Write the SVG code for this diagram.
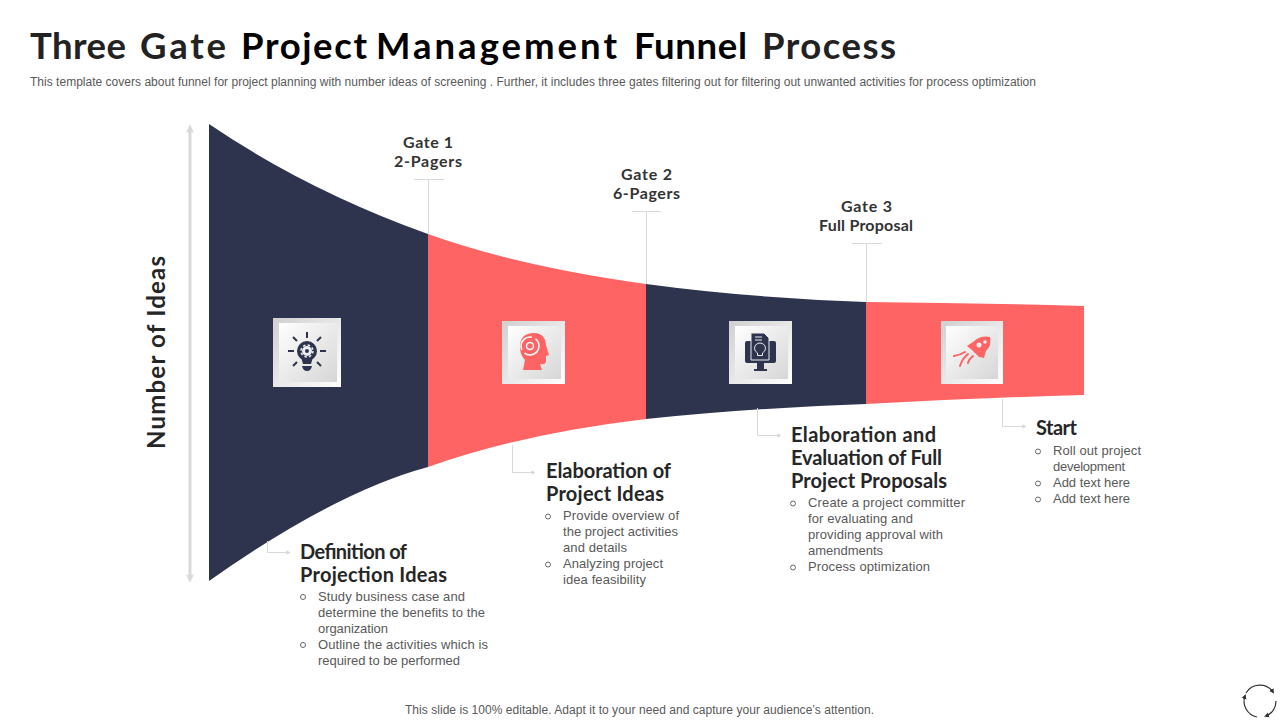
<svg xmlns="http://www.w3.org/2000/svg" width="1280" height="720" viewBox="0 0 1280 720">
<style>
text{font-family:"Liberation Sans",Arial,sans-serif}
.h{font-family:Lato,"Liberation Sans",sans-serif;font-weight:700;fill:#262626}
.title{font-size:36.500px;fill:#222}
.blk{fill:#000}
.gate{font-size:16px;fill:#333;font-weight:700;font-family:Lato,"Liberation Sans",sans-serif}
.hd{font-size:20px}
.b{font-size:13px;fill:#595959}
.sub{font-size:12px;fill:#595959}
.bul{fill:none;stroke:#666;stroke-width:1}
.ln{fill:none;stroke:#d9d9d9;stroke-width:1}
.navy{fill:#2e334e}.red{fill:#ff6464}
.tile{fill:url(#tg)}.inner{fill:url(#ig)}
</style>
<defs>
<linearGradient id="tg" x1="0" y1="0" x2="1" y2="1"><stop offset="0" stop-color="#d0d0d0"/><stop offset="1" stop-color="#fff"/></linearGradient>
<linearGradient id="ig" x1="0" y1="0" x2="1" y2="1"><stop offset="0" stop-color="#fff"/><stop offset="1" stop-color="#d6d6d6"/></linearGradient>
<marker id="ar" markerUnits="userSpaceOnUse" markerWidth="6" markerHeight="6" refX="5" refY="3" orient="auto"><path d="M0 3L2.500 1L5 3L2.500 5z" fill="#d9d9d9"/></marker>
<marker id="big" markerUnits="userSpaceOnUse" markerWidth="10" markerHeight="10" refX="2" refY="5" orient="auto-start-reverse"><path d="M0 1L9 5L0 9L2 5z" fill="#d9d9d9"/></marker>
<marker id="cy" markerUnits="userSpaceOnUse" markerWidth="6" markerHeight="6" refX="3" refY="3" orient="auto"><path d="M0 .5L5 3L0 5.500z" fill="#333"/></marker>
</defs>
<rect width="1280" height="720" fill="#fff"/>
<g id="title">
<text class="h title" x="30" y="59" textLength="96">Three</text>
<text class="h title" x="140" y="59" textLength="86">Gate</text>
<text class="h title blk" x="241" y="59" textLength="126">Project</text>
<text class="h title blk" x="376" y="59" textLength="241">Management</text>
<text class="h title blk" x="634" y="59" textLength="113">Funnel</text>
<text class="h title" x="762" y="59" textLength="134">Process</text>
<text class="sub" x="30" y="86" textLength="1006">This template covers about funnel for project planning with number ideas of screening . Further, it includes three gates filtering out for filtering out unwanted activities for process optimization</text>
</g>
<g id="funnel">
<path class="navy" d="M209 124Q306 190 428 234V467Q335 492 209 581Z"/>
<path class="red" d="M428 234Q517 266 646 284V419Q520 434 428 467Z"/>
<path class="navy" d="M646 284Q750 298 866 302V404Q750 408 646 419Z"/>
<path class="red" d="M866 302Q975 303 1084 306V395Q975 398 866 404Z"/>
</g>
<g id="connectors">
<path d="M190 576V131" fill="none" stroke="#d9d9d9" stroke-width="3" marker-start="url(#big)" marker-end="url(#big)"/>
<path class="ln" d="M414 179.500H444M428.500 179V234M632 211.500H661M646.500 211V284M852 243.500H882M866.500 243V302"/>
<path class="ln" d="M267.500 541V552.500H290" marker-end="url(#ar)"/>
<path class="ln" d="M512.500 445V472.500H535" marker-end="url(#ar)"/>
<path class="ln" d="M757.500 408V435.500H781" marker-end="url(#ar)"/>
<path class="ln" d="M1002.500 399V426.500H1026" marker-end="url(#ar)"/>
</g>
<g id="axis-label"><text class="h" font-size="24" transform="translate(165 449) rotate(-90)" textLength="193">Number of Ideas</text></g>
<g id="gate1"><text class="gate" x="403" y="148" textLength="50">Gate 1</text><text class="gate" x="394" y="167" textLength="68">2-Pagers</text></g>
<g id="gate2"><text class="gate" x="621" y="180" textLength="51">Gate 2</text><text class="gate" x="613" y="199" textLength="67">6-Pagers</text></g>
<g id="gate3"><text class="gate" x="841" y="212" textLength="51">Gate 3</text><text class="gate" x="819" y="231" textLength="94">Full Proposal</text></g>
<g id="icon1">
<rect class="tile" x="273" y="318" width="68" height="69"/><rect class="inner" x="279" y="323" width="58" height="59"/>
<g fill="#2e334e"><circle cx="307" cy="351" r="10"/><path d="M301 357h12l-2 7h-8z"/><path d="M302 366h10q-1 5-5 5t-5-5z"/></g>
<circle cx="307" cy="351" r="3.500" fill="none" stroke="#eee" stroke-width="3"/>
<circle cx="307" cy="351" r="6" fill="none" stroke="#eee" stroke-width="1.500" stroke-dasharray="2.500 2.200"/>
<path d="M307 332v6M293 337l4 4M321 337l-4 4M288 351h6M320 351h6M293 366l4-4M321 366l-4-4" stroke="#2e334e" stroke-width="2" fill="none"/>
</g>
<g id="icon2">
<rect class="tile" x="502" y="321" width="63" height="63"/><rect class="inner" x="508" y="326" width="53" height="53"/>
<path class="red" d="M520 347Q520 333 534 333Q545 333 546 345L549 355L546 356L546 362Q545 365 540 364L542 370H523L525 360Q520 355 520 347z"/>
<circle cx="530" cy="346" r="9" fill="none" stroke="#fff" stroke-width="1.500" stroke-dasharray="20 4"/><circle cx="530" cy="346" r="3.500" fill="none" stroke="#fff" stroke-width="1.500"/>
</g>
<g id="icon3">
<rect class="tile" x="729" y="321" width="63" height="63"/><rect class="inner" x="735" y="326" width="53" height="53"/>
<path class="navy" d="M747 341h27q2 0 2 2v18q0 2-2 2h-10v6h3v2h-13v-2h3v-6h-10q-2 0-2-2v-18q0-2 2-2z"/>
<path d="M751 333h13l5 5v22h-18z" fill="#2e334e" stroke="#eee" stroke-width="1"/>
<path d="M755 337h7M755 340h7" stroke="#eee" stroke-width="1"/>
<path d="M757.500 353q-3-2-3-4.500a5 5 0 0 1 11 0q0 2.500-3 4.500v2.500h-5z" fill="none" stroke="#eee"/>
</g>
<g id="icon4">
<rect class="tile" x="941" y="321" width="62" height="63"/><rect class="inner" x="946" y="326" width="52" height="53"/>
<path class="red" d="M990 337Q992 346 986 351L984 358L979 357L972 350L967 346L973 342Q981 335 990 337z"/>
<circle cx="979" cy="345" r="2.500" fill="#eee"/><circle cx="985" cy="342" r="1.800" fill="#eee"/>
<path d="M954 356Q960 355 965 352M960 366Q962 359 968 354M968 363Q969 359 973 356" fill="none" stroke="#ff6464" stroke-width="2" stroke-linecap="round"/>
</g>
<g id="n1">
<text class="h hd" x="300" y="559" textLength="107">Definition of</text><text class="h hd" x="300" y="582" textLength="147">Projection Ideas</text>
<circle class="bul" cx="303" cy="597" r="2.500"/><circle class="bul" cx="303" cy="645" r="2.500"/>
<text class="b" x="318" y="601" textLength="147">Study business case and</text>
<text class="b" x="318" y="617" textLength="167">determine the benefits to the</text>
<text class="b" x="318" y="633" textLength="70">organization</text>
<text class="b" x="318" y="649" textLength="170">Outline the activities which is</text>
<text class="b" x="318" y="665" textLength="142">required to be performed</text>
</g>
<g id="n2">
<text class="h hd" x="546" y="478" textLength="125">Elaboration of</text><text class="h hd" x="546" y="501" textLength="118">Project Ideas</text>
<circle class="bul" cx="548" cy="516.500" r="2.500"/><circle class="bul" cx="548" cy="564.500" r="2.500"/>
<text class="b" x="563" y="520" textLength="116">Provide overview of</text>
<text class="b" x="563" y="536" textLength="115">the project activities</text>
<text class="b" x="563" y="552" textLength="64">and details</text>
<text class="b" x="563" y="568" textLength="100">Analyzing project</text>
<text class="b" x="563" y="584" textLength="83">idea feasibility</text>
</g>
<g id="n3">
<text class="h hd" x="791" y="442" textLength="145">Elaboration and</text><text class="h hd" x="791" y="465" textLength="151">Evaluation of Full</text><text class="h hd" x="791" y="488" textLength="156">Project Proposals</text>
<circle class="bul" cx="793" cy="503.500" r="2.500"/><circle class="bul" cx="793" cy="567.500" r="2.500"/>
<text class="b" x="808" y="507" textLength="157">Create a project committer</text>
<text class="b" x="808" y="523" textLength="105">for evaluating and</text>
<text class="b" x="808" y="539" textLength="135">providing approval with</text>
<text class="b" x="808" y="555" textLength="75">amendments</text>
<text class="b" x="808" y="571" textLength="122">Process optimization</text>
</g>
<g id="n4">
<text class="h hd" x="1036" y="435" textLength="41">Start</text>
<circle class="bul" cx="1038" cy="451.500" r="2.500"/><circle class="bul" cx="1038" cy="483.500" r="2.500"/><circle class="bul" cx="1038" cy="499.500" r="2.500"/>
<text class="b" x="1053" y="455" textLength="88">Roll out project</text>
<text class="b" x="1053" y="471" textLength="72">development</text>
<text class="b" x="1053" y="487" textLength="77">Add text here</text>
<text class="b" x="1053" y="503" textLength="77">Add text here</text>
</g>
<g id="footer"><text class="sub" x="405" y="714" textLength="469">This slide is 100% editable. Adapt it to your need and capture your audience’s attention.</text></g>
<g id="badge" fill="none" stroke="#333" stroke-width="1.200">
<path d="M1246 693A16 16 0 0 1 1273 692" marker-end="url(#cy)"/>
<path d="M1276 701A16 16 0 0 1 1266 716" marker-end="url(#cy)"/>
<path d="M1257 717A16 16 0 0 1 1245 696" marker-end="url(#cy)"/>
</g>
</svg>
